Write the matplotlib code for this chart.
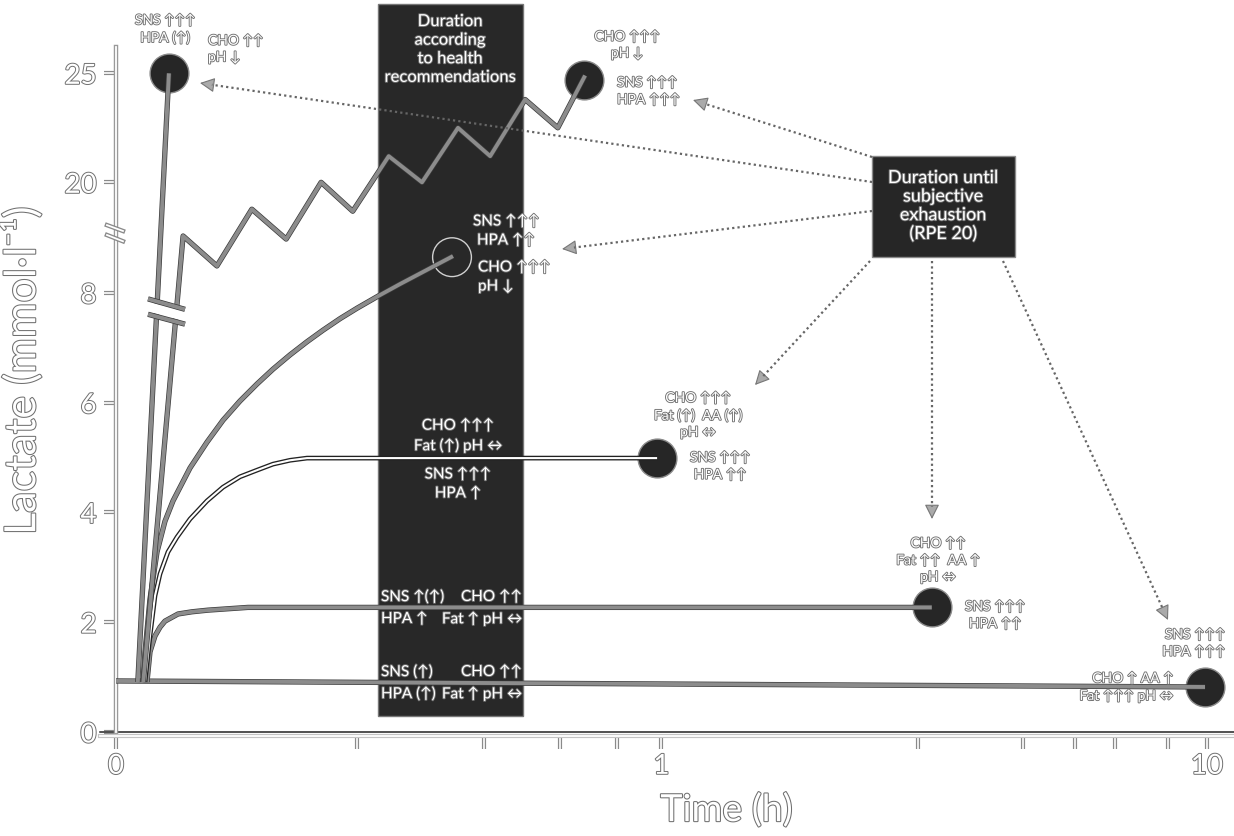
import numpy as np
import matplotlib
matplotlib.use('Agg')
import matplotlib.pyplot as plt
import matplotlib.patheffects as pe
from matplotlib.patches import Rectangle
from matplotlib.lines import Line2D

plt.rcParams['font.family'] = ['Lato', 'DejaVu Sans']

# ---- data: time in h, lactate in mmol/l ----
sprint_t = [0.040, 0.097]
sprint_lac = [0.91, 25.0]

interval_t = [0.050, 0.123, 0.185, 0.249, 0.312, 0.376, 0.434, 0.500,
              0.561, 0.627, 0.686, 0.750, 0.810, 0.860]
interval_lac = [0.91, 9.59, 8.49, 17.5, 8.98, 20.0, 16.9, 21.2,
                20.0, 22.5, 21.2, 23.8, 22.5, 24.9]

severe_t = [0.0495, 0.0532, 0.0623, 0.0752, 0.0898, 0.1045, 0.1357, 0.1668,
            0.1962, 0.2273, 0.2585, 0.2878, 0.3190, 0.3502, 0.3795, 0.4107,
            0.4418, 0.4803, 0.5206, 0.5683, 0.6178]
severe_lac = [0.91, 1.46, 2.42, 3.28, 3.84, 4.21, 4.81, 5.28,
              5.68, 6.03, 6.34, 6.61, 6.87, 7.11, 7.32, 7.53,
              7.72, 7.94, 8.16, 8.41, 8.67]

threshold_t = [0.0532, 0.0623, 0.0715, 0.0807, 0.0953, 0.1118, 0.1357, 0.1668,
               0.1962, 0.2273, 0.2585, 0.2878, 0.3190, 0.3502, 0.992]
threshold_lac = [0.91, 1.75, 2.48, 2.88, 3.28, 3.55, 3.88, 4.21,
                 4.46, 4.65, 4.77, 4.88, 4.95, 4.99, 4.99]

moderate_t = [0.0568, 0.0623, 0.0715, 0.0807, 0.0898, 0.1137, 0.1393, 0.1687, 0.2420, 3.13]
moderate_lac = [0.91, 1.46, 1.75, 1.91, 2.02, 2.15, 2.19, 2.22, 2.27, 2.27]

low_t = [0.0, 9.92]
low_lac = [0.93, 0.82]

end_t = [0.097, 0.858, 0.992, 3.13, 9.92]
end_lac = [25.0, 24.7, 4.99, 2.27, 0.82]
open_t = [0.616]
open_lac = [8.65]

band_t = [0.480, 0.746]       # duration according to health recommendations
band_lac = [0.29, 28.17]

# axis break marks on the two fastest traces
brk_t = [0.0587, 0.1265]
brk_upper = [7.89, 7.70]
brk_gap = [7.75, 7.57]
brk_lower = [7.61, 7.43]
axbrk_t = [-0.0165, 0.0128]
axbrk_upper = [12.8, 11.06]
axbrk_lower = [9.88, 8.94]

y_ticks = [0, 2, 4, 6, 8, 20, 25]
x_ticks = [0, 0.442, 0.675, 0.814, 0.918, 1, 2.95, 4.60, 5.73, 6.78, 8.48, 10]
x_labels = ['0', '', '', '', '', '1', '', '', '', '', '', '10']


# ---- scales: linear up to 1 h then log, broken lactate axis ----
def x_fwd(t):
    t = np.asarray(t, float)
    return np.where(t <= 1, t, 1 + np.log10(np.maximum(t, 1)))


def x_inv(u):
    u = np.asarray(u, float)
    return np.where(u <= 1, u, 10 ** (np.maximum(u, 1) - 1))


Y_VAL = [-5, 0, 9, 19, 40]
Y_POS = [-5, 0, 9, 9.617, 17.956]


def y_fwd(v):
    return np.interp(v, Y_VAL, Y_POS)


def y_inv(p):
    return np.interp(p, Y_POS, Y_VAL)


def hollow(lw=1.3, fg='#707070'):
    return [pe.withStroke(linewidth=lw, foreground=fg)]


W, H = 1234, 837
fig = plt.figure(figsize=(W / 100, H / 100), dpi=100)
ax = fig.add_axes([116 / W, 104 / H, (W - 116) / W, 733 / H])
ax.set_xscale('function', functions=(x_fwd, x_inv))
ax.set_yscale('function', functions=(y_fwd, y_inv))
ax.set_xlim(0, 11.21)
ax.set_ylim(0, 28.41)

# health recommendation band
ax.add_patch(Rectangle((band_t[0], band_lac[0]), band_t[1] - band_t[0], band_lac[1] - band_lac[0],
                       fc='#282828', ec='#777777', lw=1, zorder=1))

# zero line
ax.plot([-0.03, 11.21], [0, 0], color='#222222', lw=1.1, clip_on=False, zorder=2)

# end-of-exercise balls
ax.scatter(end_t, end_lac, s=780, c='#262626', edgecolors='#8a8a8a', linewidths=1, zorder=2.5, clip_on=False)
ax.scatter(open_t, open_lac, s=780, facecolors='none', edgecolors='#d0d0d0', linewidths=1, zorder=2.5)


def trace(t, lac, core='#8c8c8c', edge='#3a3a3a', lw=2.8, elw=3.8, z=3):
    ax.plot(t, lac, color=core, lw=lw, solid_capstyle='butt', solid_joinstyle='round', zorder=z,
            path_effects=[pe.Stroke(linewidth=elw, foreground=edge), pe.Normal()])


trace(low_t, low_lac)
trace(moderate_t, moderate_lac)
trace(threshold_t, threshold_lac, core='white', edge='#222222', lw=1.5, elw=3.4)
trace(severe_t, severe_lac)
trace(sprint_t, sprint_lac)
trace(interval_t, interval_lac)

# break on the traces
ax.plot(brk_t, brk_gap, color='white', lw=7, solid_capstyle='butt', zorder=3.5)
trace(brk_t, brk_upper, z=3.6)
trace(brk_t, brk_lower, z=3.6)

# break on the y axis
for yy in (axbrk_upper, axbrk_lower):
    ax.plot(axbrk_t, yy, color='white', lw=1.3, clip_on=False, zorder=4,
            path_effects=hollow(3.2, '#8a8a8a'))

# spines and ticks
for s in ['top', 'right']:
    ax.spines[s].set_visible(False)
ax.spines['left'].set_bounds(0, 26.2)
ax.spines['bottom'].set_position(('outward', 3))
ax.spines['bottom'].set_bounds(-0.03, 11.21)
ax.spines['left'].set_path_effects(hollow(3.2, '#9a9a9a'))
ax.spines['bottom'].set_path_effects(hollow(3.0, '#c4c4c4'))
for s in ['left', 'bottom']:
    ax.spines[s].set_color('white')
    ax.spines[s].set_linewidth(1.3)

ax.set_yticks(y_ticks)
ax.set_yticklabels([str(v) for v in y_ticks])
ax.set_xticks(x_ticks)
ax.set_xticklabels(x_labels)
ax.minorticks_off()
ax.tick_params(axis='both', direction='out', color='white', width=1.2, length=9,
               labelcolor='white', labelsize=20)
ax.tick_params(axis='y', pad=5)
ax.tick_params(axis='x', pad=3)
for tick in ax.xaxis.get_major_ticks() + ax.yaxis.get_major_ticks():
    tick.tick1line.set_path_effects(hollow(3.0, '#8a8a8a'))
    tick.label1.set_path_effects(hollow(1.4))

ax.set_ylabel('Lactate (mmol·l⁻¹)', fontsize=31, color='white', path_effects=hollow(1.5))
ax.yaxis.set_label_coords(-0.066, 0.492)
ax.set_xlabel('Time (h)', fontsize=27, color='white', path_effects=hollow(1.5))
ax.xaxis.set_label_coords(0.546, -0.082)


# ---- annotations (reference pixel positions) ----
def fp(x, y):
    return x / W, 1 - y / H


def label(x, y, s, ha='center', size=10, ls=1.45):
    fig.text(*fp(x, y), s, ha=ha, va='center', fontsize=size, color='white',
             linespacing=ls, path_effects=hollow(1.3), zorder=5)


notes = [
    (165, 30, 'SNS ↑↑↑\nHPA (↑)', 'center', 10),
    (208, 50, 'CHO ↑↑\npH ↓', 'left', 10),
    (627, 46, 'CHO ↑↑↑\npH ↓', 'center', 10),
    (617, 92, 'SNS ↑↑↑\nHPA ↑↑↑', 'left', 10),
    (473, 232, 'SNS ↑↑↑\n HPA ↑↑', 'left', 11),
    (478, 278, 'CHO ↑↑↑\npH ↓', 'left', 11),
    (458, 437, 'CHO ↑↑↑\nFat (↑) pH ↔', 'center', 11),
    (458, 485, 'SNS ↑↑↑\nHPA ↑', 'center', 11),
    (698, 416, 'CHO ↑↑↑\nFat (↑)  AA (↑)\npH ↔', 'center', 10),
    (720, 467, 'SNS ↑↑↑\nHPA ↑↑', 'center', 10),
    (381, 598, 'SNS ↑(↑)', 'left', 11),
    (522, 598, 'CHO ↑↑', 'right', 11),
    (381, 620, 'HPA ↑', 'left', 11),
    (522, 620, 'Fat ↑ pH ↔', 'right', 11),
    (381, 673, 'SNS (↑)', 'left', 11),
    (522, 673, 'CHO ↑↑', 'right', 11),
    (381, 695, 'HPA (↑)', 'left', 11),
    (522, 695, 'Fat ↑ pH ↔', 'right', 11),
    (938, 561, 'CHO ↑↑\nFat ↑↑  AA ↑\npH ↔', 'center', 10),
    (995, 616, 'SNS ↑↑↑\nHPA ↑↑', 'center', 10),
    (1225, 644, 'SNS ↑↑↑\nHPA ↑↑↑', 'right', 10),
    (1173, 688, 'CHO ↑ AA ↑\nFat ↑↑↑ pH ↔', 'right', 10),
]
for x, y, s, ha, size in notes:
    label(x, y, s, ha=ha, size=size)

label(450, 50, 'Duration\naccording\nto health\nrecommendations', size=12, ls=1.2)

# RPE box
fig.add_artist(Rectangle(fp(872, 258), 143 / W, 101 / H, transform=fig.transFigure,
                         fc='#262626', ec='#8a8a8a', lw=1, zorder=4))
label(943, 207, 'Duration until\nsubjective\nexhaustion\n(RPE 20)', size=13, ls=1.2)

arrows = [
    ((872, 183), (200, 84)),
    ((872, 158), (693, 101)),
    ((872, 212), (562, 250)),
    ((870, 262), (755, 386)),
    ((932, 262), (932, 520)),
    ((1003, 262), (1168, 621)),
]
for (x0, y0), (x1, y1) in arrows:
    d = np.hypot(x1 - x0, y1 - y0)
    ux, uy = (x1 - x0) / d, (y1 - y0) / d
    bx, by = x1 - 12 * ux, y1 - 12 * uy
    a, b = fp(x0, y0), fp(bx, by)
    fig.add_artist(Line2D([a[0], b[0]], [a[1], b[1]], transform=fig.transFigure,
                          color='#666666', lw=1.6, ls=(0, (1, 1.4)), zorder=4))
    ax.annotate('', xy=fp(x1, y1), xycoords='figure fraction',
                xytext=fp(x1 - 13 * ux, y1 - 13 * uy), textcoords='figure fraction',
                arrowprops=dict(arrowstyle='-|>,head_length=0.9,head_width=0.45',
                                fc='#aaaaaa', ec='#777777', lw=0.8, shrinkA=0, shrinkB=0),
                zorder=4)

fig.savefig('out.png', dpi=100)
